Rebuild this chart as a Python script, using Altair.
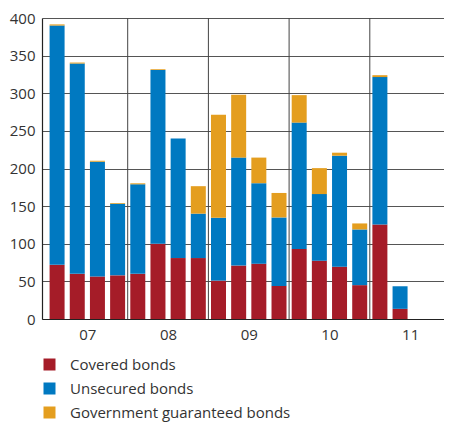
import altair as alt
import pandas as pd

quarters = ["07Q1", "07Q2", "07Q3", "07Q4", "08Q1", "08Q2", "08Q3", "08Q4",
            "09Q1", "09Q2", "09Q3", "09Q4", "10Q1", "10Q2", "10Q3", "10Q4",
            "11Q1", "11Q2", "11Q3", "11Q4"]
years = ["07", "08", "09", "10", "11"]
series = ["Covered bonds", "Unsecured bonds", "Government guaranteed bonds"]
colors = ["#A51C28", "#0079C1", "#E49E1F"]

covered = [72, 60, 56.5, 58, 60, 100, 81, 81, 51, 71, 73.5, 44, 93, 77.5, 69.5, 45, 125.5, 13.5]
unsecured = [318, 279.5, 152.5, 95, 119, 231, 159, 59, 83.5, 143.5, 107, 91, 168, 88.5, 147.5, 74, 196, 30]
government = [1.5, 1.3, 1.3, 1, 1.3, 1, 0, 36.5, 137, 83.5, 34, 32.5, 36.5, 34.5, 4, 8, 2.5, 0]

rows = []
for i in range(len(covered)):
    for k, (name, vals) in enumerate(zip(series, [covered, unsecured, government])):
        rows.append({"quarter": quarters[i], "pos": i + 0.5, "series": name,
                     "value": vals[i], "order": k})
df = pd.DataFrame(rows)

sep = pd.DataFrame({"pos": [4 * (j + 1) for j in range(len(years) - 1)]})

label_map = "{" + ",".join(f"'{4*j+2}':'{y}'" for j, y in enumerate(years)) + "}"

FONT = "Open Sans"
W = 402
H = 301
# the visible x range ends part-way through the last (empty) quarter, as in the reference
x_scale = alt.Scale(domain=[0, 19.43], nice=False, zero=False)

x_axis = alt.Axis(values=[4 * j + 2 for j in range(len(years))],
                  labelExpr=f"{label_map}[''+datum.value]",
                  title=None, ticks=False, grid=False, domain=True,
                  domainColor="#222222", domainWidth=1.2,
                  labelFontSize=15, labelFont=FONT, labelColor="#333333",
                  labelPadding=8, labelOverlap=False)

rules = alt.Chart(sep).mark_rule(color="#444444", strokeWidth=1).encode(
    x=alt.X("pos:Q", scale=x_scale, axis=x_axis),
    y=alt.value(0),
    y2=alt.value(H),
)

bars = alt.Chart(df).mark_bar(size=15).encode(
    x=alt.X("pos:Q", scale=x_scale, axis=x_axis),
    y=alt.Y("value:Q", stack="zero",
            scale=alt.Scale(domain=[0, 400], nice=False),
            axis=alt.Axis(values=list(range(0, 401, 50)), title=None, ticks=False,
                          grid=True, gridColor="#555555", gridWidth=1,
                          domain=True, domainColor="#222222", domainWidth=1.2,
                          labelFontSize=15, labelFont=FONT, labelColor="#333333",
                          labelPadding=7)),
    color=alt.Color("series:N", scale=alt.Scale(domain=series, range=colors),
                    legend=alt.Legend(orient="none", legendX=0, legendY=339,
                                      direction="vertical", title=None,
                                      symbolType="square", symbolSize=144,
                                      symbolStrokeWidth=0, symbolOpacity=1,
                                      labelFontSize=15, labelFont=FONT,
                                      labelColor="#333333", labelOffset=13,
                                      rowPadding=8, padding=0,
                                      labelLimit=400)),
    order=alt.Order("order:Q"),
    tooltip=["quarter", "series", "value"],
)

chart = alt.layer(rules, bars).properties(
    width=W, height=H,
    autosize=alt.AutoSizeParams(type="none"),
    padding={"left": 34, "top": 10, "right": 0, "bottom": 104},
).configure_view(stroke=None)

chart.save("out.html", embed_options={"renderer": "svg", "actions": False})
